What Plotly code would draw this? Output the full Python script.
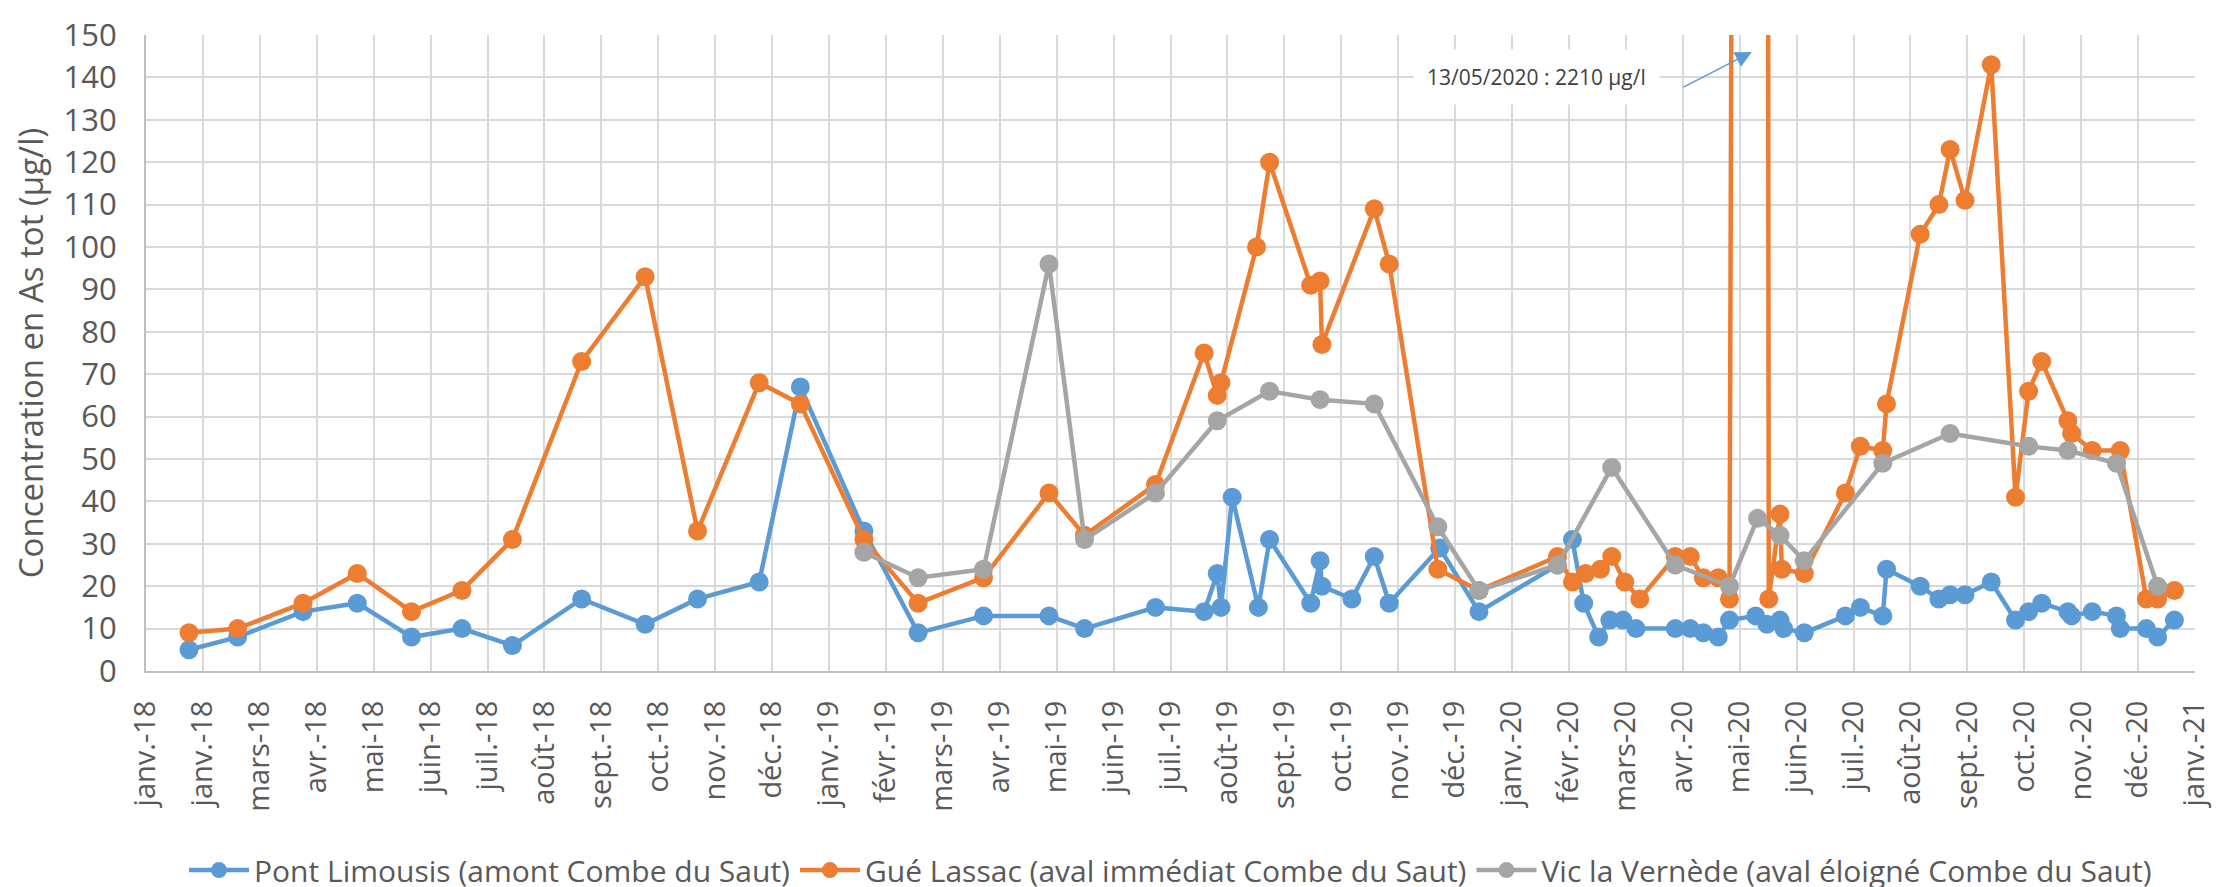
import pandas as pd
import plotly.graph_objects as go

# ticks of the date axis (37 evenly spaced ticks, Excel style labels)
tick_start = "2018-01-01"
tick_end = "2021-01-01"
tick_labels = ["janv.-18", "janv.-18", "mars-18", "avr.-18", "mai-18", "juin-18", "juil.-18",
               "août-18", "sept.-18", "oct.-18", "nov.-18", "déc.-18", "janv.-19", "févr.-19",
               "mars-19", "avr.-19", "mai-19", "juin-19", "juil.-19", "août-19", "sept.-19",
               "oct.-19", "nov.-19", "déc.-19", "janv.-20", "févr.-20", "mars-20", "avr.-20",
               "mai-20", "juin-20", "juil.-20", "août-20", "sept.-20", "oct.-20", "nov.-20",
               "déc.-20", "janv.-21"]

# Pont Limousis (amont)
pont_dates = ["2018-01-24", "2018-02-19", "2018-03-26", "2018-04-24", "2018-05-23", "2018-06-19",
              "2018-07-16", "2018-08-22", "2018-09-25", "2018-10-23", "2018-11-25", "2018-12-17",
              "2019-01-20", "2019-02-18", "2019-03-25", "2019-04-29", "2019-05-18", "2019-06-25",
              "2019-07-21", "2019-07-28", "2019-07-30", "2019-08-05", "2019-08-19", "2019-08-25",
              "2019-09-16", "2019-09-21", "2019-09-22", "2019-10-08", "2019-10-20", "2019-10-28",
              "2019-11-24", "2019-12-15", "2020-01-26", "2020-02-03", "2020-02-09", "2020-02-17",
              "2020-02-23", "2020-03-01", "2020-03-08", "2020-03-29", "2020-04-06", "2020-04-13",
              "2020-04-21", "2020-04-27", "2020-05-11", "2020-05-17", "2020-05-24", "2020-05-26",
              "2020-06-06", "2020-06-28", "2020-07-06", "2020-07-18", "2020-07-20", "2020-08-07",
              "2020-08-17", "2020-08-23", "2020-08-31", "2020-09-14", "2020-09-27", "2020-10-04",
              "2020-10-11", "2020-10-25", "2020-10-27", "2020-11-07", "2020-11-20", "2020-11-22",
              "2020-12-06", "2020-12-12", "2020-12-21"]
pont_values = [5, 8, 14, 16, 8, 10,
               6, 17, 11, 17, 21, 67,
               33, 9, 13, 13, 10, 15,
               14, 23, 15, 41, 15, 31,
               16, 26, 20, 17, 27, 16,
               29, 14, 25, 31, 16, 8,
               12, 12, 10, 10, 10, 9,
               8, 12, 13, 11, 12, 10,
               9, 13, 15, 13, 24, 20,
               17, 18, 18, 21, 12, 14,
               16, 14, 13, 14, 13, 10,
               10, 8, 12]

# Gué Lassac (aval immédiat)
gue_dates = ["2018-01-24", "2018-02-19", "2018-03-26", "2018-04-24", "2018-05-23", "2018-06-19",
             "2018-07-16", "2018-08-22", "2018-09-25", "2018-10-23", "2018-11-25", "2018-12-17",
             "2019-01-20", "2019-02-18", "2019-03-25", "2019-04-29", "2019-05-18", "2019-06-25",
             "2019-07-21", "2019-07-28", "2019-07-30", "2019-08-18", "2019-08-25", "2019-09-16",
             "2019-09-21", "2019-09-22", "2019-10-20", "2019-10-28", "2019-11-23", "2019-12-15",
             "2020-01-26", "2020-02-03", "2020-02-10", "2020-02-18", "2020-02-24", "2020-03-02",
             "2020-03-10", "2020-03-29", "2020-04-06", "2020-04-13", "2020-04-21", "2020-04-27",
             "2020-05-13", "2020-05-18", "2020-05-24", "2020-05-25", "2020-06-06", "2020-06-28",
             "2020-07-06", "2020-07-18", "2020-07-20", "2020-08-07", "2020-08-17", "2020-08-23",
             "2020-08-31", "2020-09-14", "2020-09-27", "2020-10-04", "2020-10-11", "2020-10-25",
             "2020-10-27", "2020-11-07", "2020-11-22", "2020-12-06", "2020-12-12", "2020-12-21"]
gue_values = [9, 10, 16, 23, 14, 19,
              31, 73, 93, 33, 68, 63,
              31, 16, 22, 42, 32, 44,
              75, 65, 68, 100, 120, 91,
              92, 77, 109, 96, 24, 19,
              27, 21, 23, 24, 27, 21,
              17, 27, 27, 22, 22, 17,
              2210, 17, 37, 24, 23, 42,
              53, 52, 63, 103, 110, 123,
              111, 143, 41, 66, 73, 59,
              56, 52, 52, 17, 17, 19]

# Vic la Vernède (aval éloigné)
vic_dates = ["2019-01-20", "2019-02-18", "2019-03-25", "2019-04-29", "2019-05-18", "2019-06-25",
             "2019-07-28", "2019-08-25", "2019-09-21", "2019-10-20", "2019-11-23", "2019-12-15",
             "2020-01-26", "2020-02-24", "2020-03-29", "2020-04-27", "2020-05-12", "2020-05-24",
             "2020-06-06", "2020-07-18", "2020-08-23", "2020-10-04", "2020-10-25", "2020-11-20",
             "2020-12-12"]
vic_values = [28, 22, 24, 96, 31, 42,
              59, 66, 64, 63, 34, 19,
              25, 48, 25, 20, 36, 32,
              26, 49, 56, 53, 52, 49,
              20]

series = [
    ("Pont Limousis (amont Combe du Saut)", pont_dates, pont_values, "#5B9BD5"),
    ("Gué Lassac (aval immédiat Combe du Saut)", gue_dates, gue_values, "#ED7D31"),
    ("Vic la Vernède (aval éloigné Combe du Saut)", vic_dates, vic_values, "#A5A5A5"),
]

tick_dates = pd.date_range(tick_start, tick_end, periods=len(tick_labels))

fig = go.Figure()
for name, dates, values, color in series:
    fig.add_trace(go.Scatter(x=pd.to_datetime(dates), y=values, name=name,
                             mode="lines+markers",
                             line=dict(color=color, width=4.5),
                             marker=dict(color=color, size=19),
                             cliponaxis=True))

# annotation for the off-scale value
fig.add_annotation(x="2020-01-15", y=140, xref="x", yref="y",
                   text="13/05/2020 : 2210 µg/l", showarrow=False,
                   font=dict(size=21, color="#404040"),
                   bgcolor="white", borderpad=13)
fig.add_annotation(x="2020-05-09", y=146, xref="x", yref="y", text="",
                   showarrow=True, arrowhead=2, arrowsize=2.2, arrowwidth=1.5,
                   arrowcolor="#5B9BD5", ax=-70, ay=36)

grid = "#d9d9d9"
fig.update_layout(
    width=2230, height=887,
    margin=dict(l=138, r=43, t=27, b=224, autoexpand=False),
    paper_bgcolor="white", plot_bgcolor="white",
    font=dict(family="Open Sans", color="#595959"),
    legend=dict(orientation="h", x=0.5, xanchor="center", y=-0.313, yanchor="middle",
                font=dict(size=30, color="#595959"), itemwidth=60),
    xaxis=dict(type="date", range=[tick_dates[0], tick_dates[-1]],
               tickmode="array", tickvals=tick_dates, ticktext=tick_labels,
               tickangle=-90, tickfont=dict(size=29), automargin=False,
               showgrid=True, gridcolor=grid, gridwidth=2,
               showline=True, linecolor="#bfbfbf", linewidth=2,
               ticklabelstandoff=16, zeroline=False),
    yaxis=dict(range=[0, 150], dtick=10, tickfont=dict(size=31), automargin=False,
               showgrid=True, gridcolor=grid, gridwidth=2,
               showline=True, linecolor="#bfbfbf", linewidth=2,
               ticklabelstandoff=21, zeroline=False,
               title=dict(text="Concentration en As tot (µg/l)", font=dict(size=33),
                          standoff=10)),
)

fig.write_html("out.html")
